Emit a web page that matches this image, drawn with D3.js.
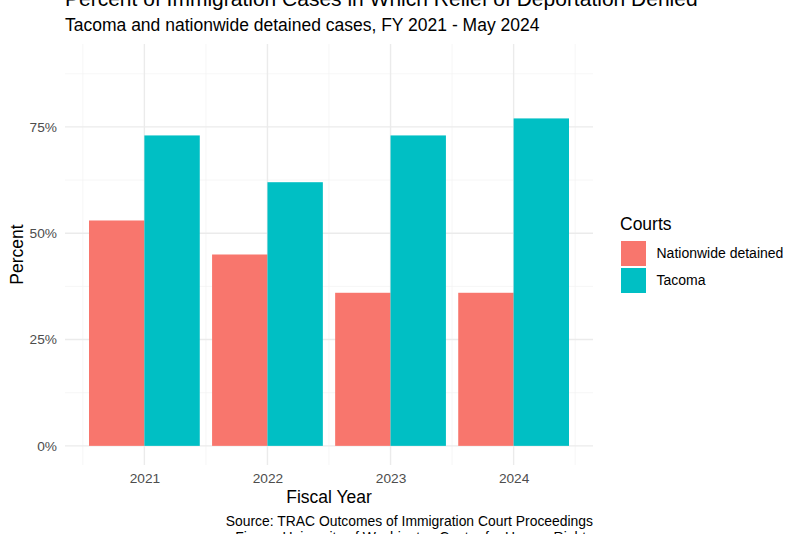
<!DOCTYPE html>
<html>
<head>
<meta charset="utf-8">
<script src="https://cdn.jsdelivr.net/npm/d3@7"></script>
<style>
  body { margin: 0; background: #fff; }
  text { font-family: "Liberation Sans", Arial, sans-serif; }
</style>
</head>
<body>
<svg id="chart" width="800" height="534"></svg>
<script>
var years = [2021, 2022, 2023, 2024];
var courts = ["Nationwide detained", "Tacoma"];
var nationwide = [53, 45, 36, 36];
var tacoma = [73, 62, 73, 77];
var yTicks = [0, 25, 50, 75];
var colors = ["#F8766D", "#00BFC4"];

var svg = d3.select("#chart");

var panel = { left: 65, right: 593, top: 44, bottom: 465 };

// continuous year axis, bars 0.9 wide, 5% expansion like ggplot
var x = d3.scaleLinear()
	.domain([2020.55 - 0.195, 2024.45 + 0.195])
	.range([panel.left, panel.right]);

var y = d3.scaleLinear()
	.domain([-4.5, 94.5])
	.range([panel.bottom, panel.top]);

var grid = svg.append("g").attr("class", "grid");

// minor grid lines
var yMinor = [12.5, 37.5, 62.5, 87.5];
var xMinor = [2020.5, 2021.5, 2022.5, 2023.5, 2024.5];

grid.selectAll("line.ymin").data(yMinor).enter().append("line")
	.attr("x1", panel.left).attr("x2", panel.right)
	.attr("y1", function(d) { return y(d); }).attr("y2", function(d) { return y(d); })
	.attr("stroke", "#f2f2f2").attr("stroke-width", 0.7);

grid.selectAll("line.xmin").data(xMinor).enter().append("line")
	.attr("y1", panel.top).attr("y2", panel.bottom)
	.attr("x1", function(d) { return x(d); }).attr("x2", function(d) { return x(d); })
	.attr("stroke", "#f2f2f2").attr("stroke-width", 0.7);

grid.selectAll("line.ymaj").data(yTicks).enter().append("line")
	.attr("x1", panel.left).attr("x2", panel.right)
	.attr("y1", function(d) { return y(d); }).attr("y2", function(d) { return y(d); })
	.attr("stroke", "#ebebeb").attr("stroke-width", 1.4);

grid.selectAll("line.xmaj").data(years).enter().append("line")
	.attr("y1", panel.top).attr("y2", panel.bottom)
	.attr("x1", function(d) { return x(d); }).attr("x2", function(d) { return x(d); })
	.attr("stroke", "#ebebeb").attr("stroke-width", 1.4);

/* ------- BARS -------*/
var barW = 0.45;
var series = [nationwide, tacoma];

series.forEach(function(vals, s) {
	svg.append("g").selectAll("rect")
		.data(vals)
		.enter().append("rect")
		.attr("x", function(d, i) { return x(years[i] - 0.45 + s * barW); })
		.attr("width", function() { return x(2021 + barW) - x(2021); })
		.attr("y", function(d) { return y(d); })
		.attr("height", function(d) { return y(0) - y(d); })
		.attr("fill", colors[s]);
});

/* ------- AXES -------*/
var yAxis = d3.axisLeft(y)
	.tickValues(yTicks)
	.tickSize(0)
	.tickPadding(8)
	.tickFormat(function(d) { return d + "%"; });

var gy = svg.append("g")
	.attr("transform", "translate(" + panel.left + ",0)")
	.call(yAxis);
gy.select(".domain").remove();
gy.selectAll("text")
	.attr("fill", "#4d4d4d")
	.style("font-size", "13.7px")
	.style("font-family", "Liberation Sans, Arial, sans-serif");

var xAxis = d3.axisBottom(x)
	.tickValues(years)
	.tickSize(0)
	.tickPadding(8)
	.tickFormat(d3.format("d"));

var gx = svg.append("g")
	.attr("transform", "translate(0," + panel.bottom + ")")
	.call(xAxis);
gx.select(".domain").remove();
gx.selectAll("text")
	.attr("fill", "#4d4d4d")
	.style("font-size", "13.7px")
	.style("font-family", "Liberation Sans, Arial, sans-serif");

// axis titles
svg.append("text")
	.attr("x", (panel.left + panel.right) / 2)
	.attr("y", 503)
	.attr("text-anchor", "middle")
	.style("font-size", "17.5px")
	.text("Fiscal Year");

svg.append("text")
	.attr("transform", "translate(23," + (panel.top + panel.bottom) / 2 + ") rotate(-90)")
	.attr("text-anchor", "middle")
	.style("font-size", "17.5px")
	.text("Percent");

/* ------- TITLES -------*/
svg.append("text")
	.attr("x", 65)
	.attr("y", 5.5)
	.style("font-size", "21px")
	.text("Percent of Immigration Cases in Which Relief of Deportation Denied");

svg.append("text")
	.attr("x", 65)
	.attr("y", 31)
	.style("font-size", "17.5px")
	.text("Tacoma and nationwide detained cases, FY 2021 - May 2024");

// caption
var caption = ["Source: TRAC Outcomes of Immigration Court Proceedings",
	"Figure: University of Washington Center for Human Rights"];
svg.selectAll("text.caption").data(caption).enter().append("text")
	.attr("class", "caption")
	.attr("x", panel.right)
	.attr("y", function(d, i) { return 526 + i * 16; })
	.attr("text-anchor", "end")
	.style("font-size", "13.9px")
	.text(function(d) { return d; });

/* ------- LEGEND -------*/
var legend = svg.append("g").attr("transform", "translate(621,0)");

legend.append("text")
	.attr("x", -1)
	.attr("y", 230)
	.style("font-size", "17.5px")
	.text("Courts");

var item = legend.selectAll("g.item").data(courts).enter().append("g")
	.attr("class", "item")
	.attr("transform", function(d, i) { return "translate(0," + (241 + i * 27) + ")"; });

item.append("rect")
	.attr("width", 25)
	.attr("height", 25)
	.attr("fill", function(d, i) { return colors[i]; });

item.append("text")
	.attr("x", 35.5)
	.attr("y", 12.5)
	.attr("dy", "0.35em")
	.style("font-size", "14px")
	.text(function(d) { return d; });
</script>
</body>
</html>
